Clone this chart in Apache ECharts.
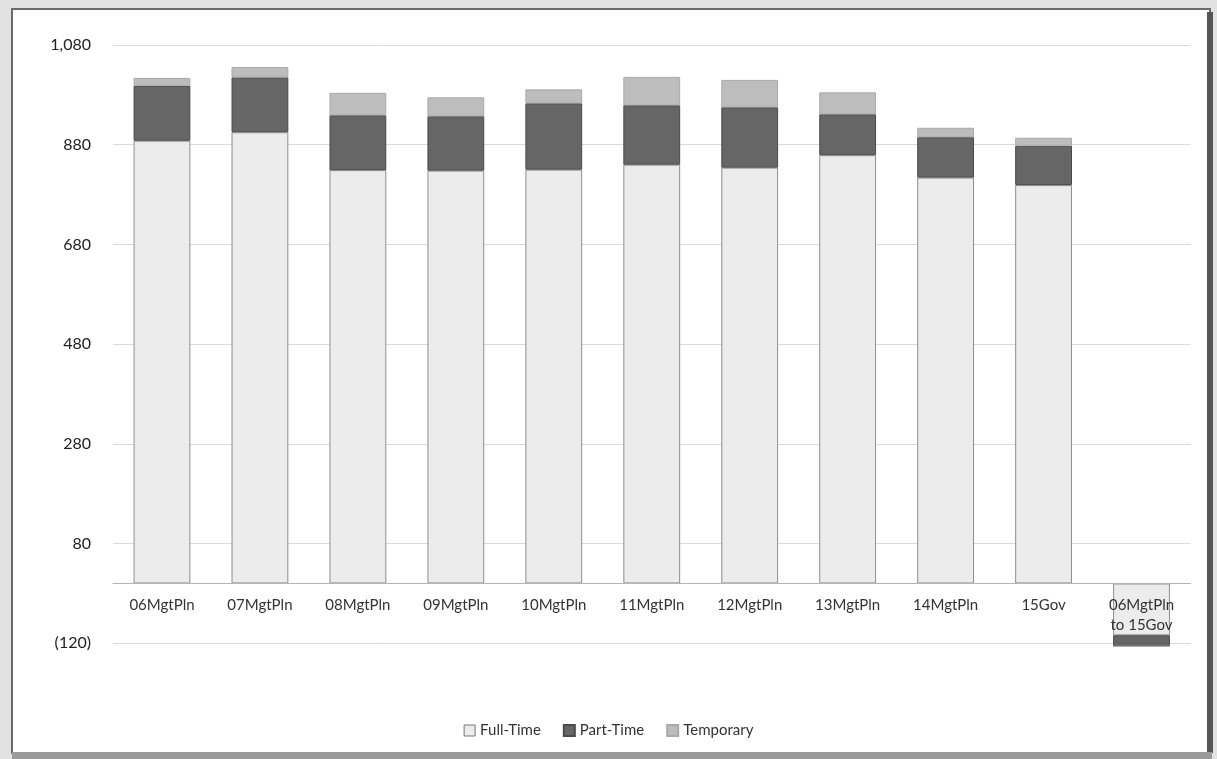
<!DOCTYPE html>
<html>
<head>
<meta charset="utf-8">
<script src="https://cdn.jsdelivr.net/npm/echarts@6/dist/echarts.min.js"></script>
<style>
html,body{margin:0;padding:0;background:#e2e2e2;}
#chart{width:1217px;height:759px;}
</style>
</head>
<body>
<div id="chart"></div>
<script>
const categories = ['06MgtPln','07MgtPln','08MgtPln','09MgtPln','10MgtPln','11MgtPln','12MgtPln','13MgtPln','14MgtPln','15Gov','06MgtPln\nto 15Gov'];
const fullTime  = [888, 905, 829, 828, 830, 840, 834, 859, 814, 799, -104];
const partTime  = [110, 110, 110, 109, 133, 119, 121, 82, 81, 79, -22];
const temporary = [16, 21, 45, 38, 28, 57, 55, 44, 19, 16, 0];
const yMin = -120, yMax = 1080, yInterval = 200;

function fmt(v){
  const a = Math.abs(v);
  const s = a >= 1000 ? Math.floor(a/1000) + ',' + String(a%1000).padStart(3,'0') : String(a);
  return v < 0 ? '(' + s + ')' : s;
}

const chart = echarts.init(document.getElementById('chart'));
const font = 'Lato';
const gridTop = 45, gridBottom = 115.7;
const plotH = 759 - gridTop - gridBottom;
const zeroOffset = plotH * (0 - yMin) / (yMax - yMin);
chart.setOption({
  animation:false,
  backgroundColor:'transparent',
  graphic:[
    {type:'rect', z:-10, shape:{x:12,y:9,width:1198,height:744}, style:{fill:'#ffffff', stroke:'#6a6a6a', lineWidth:2}},
    {type:'rect', z:-9, shape:{x:1207,y:12,width:6,height:741}, style:{fill:'#555555'}},
    {type:'rect', z:-9, shape:{x:12,y:752,width:1200,height:7}, style:{fill:'#9a9a9a'}}
  ],
  grid:{left:113, right:26.5, top:gridTop, bottom:gridBottom, containLabel:false},
  legend:{
    bottom:16, left:'center',
    icon:'rect',
    itemWidth:11, itemHeight:11, itemGap:22,
    textStyle:{fontFamily:font, fontSize:15, color:'#333'},
    data:[
      {name:'Full-Time', itemStyle:{borderColor:'#777', borderWidth:1}},
      {name:'Part-Time'},
      {name:'Temporary'}
    ]
  },
  xAxis:{
    type:'category', data:categories,
    offset:-zeroOffset,
    z:10,
    axisLine:{onZero:false, lineStyle:{color:'#b5b5b5'}},
    axisTick:{show:false},
    axisLabel:{interval:0, fontFamily:font, fontSize:15, color:'#333', margin:12, lineHeight:20}
  },
  yAxis:{
    type:'value', min:yMin, max:yMax, interval:yInterval,
    axisLine:{show:false}, axisTick:{show:false},
    splitLine:{lineStyle:{color:'#dadada'}},
    axisLabel:{formatter:fmt, fontFamily:font, fontSize:16, color:'#222', margin:22}
  },
  series:[
    {name:'Full-Time', type:'bar', stack:'s', data:fullTime, barWidth:'58%', clip:false,
     itemStyle:{color:'#ececec', borderColor:'#8e8e8e', borderWidth:1}},
    {name:'Part-Time', type:'bar', stack:'s', data:partTime, barWidth:'58%', clip:false,
     itemStyle:{color:'#666666', borderColor:'#4a4a4a', borderWidth:1}},
    {name:'Temporary', type:'bar', stack:'s', data:temporary, barWidth:'58%', clip:false,
     itemStyle:{color:'#bdbdbd', borderColor:'#a9a9a9', borderWidth:1}}
  ]
});
</script>
</body>
</html>
